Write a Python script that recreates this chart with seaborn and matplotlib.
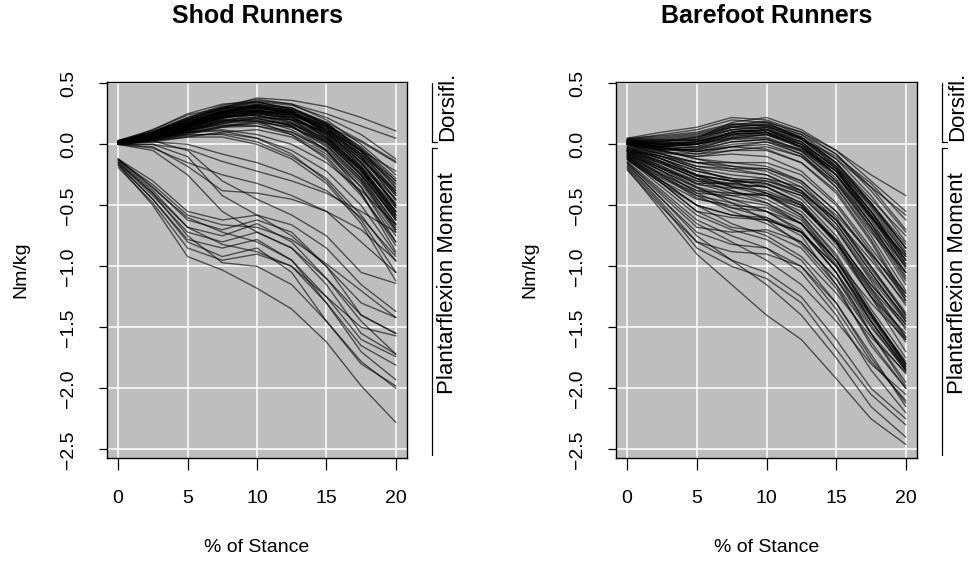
import pandas as pd
import matplotlib
matplotlib.use("Agg")
import matplotlib.pyplot as plt
import seaborn as sns

# % of stance where each runner's moment was read
stance_pct = [0, 2.5, 5, 7.5, 10, 12.5, 15, 17.5, 20]

# shod runners: main bundle (small dorsiflexion peak near 10 %)
shod_upper = [
    [0.03, 0.10, 0.20, 0.30, 0.38, 0.36, 0.31, 0.22, 0.11],
    [0.02, 0.09, 0.20, 0.30, 0.36, 0.33, 0.25, 0.15, 0.05],
    [0.02, 0.08, 0.18, 0.29, 0.35, 0.32, 0.22, 0.08, -0.12],
    [0.01, 0.12, 0.24, 0.30, 0.31, 0.25, 0.15, 0.02, -0.15],
    [0.02, 0.10, 0.22, 0.32, 0.37, 0.33, 0.20, 0.00, -0.25],
    [0.00, 0.07, 0.17, 0.26, 0.32, 0.30, 0.18, -0.05, -0.35],
    [0.01, 0.06, 0.15, 0.25, 0.30, 0.26, 0.12, -0.10, -0.42],
    [0.00, 0.05, 0.13, 0.22, 0.28, 0.25, 0.10, -0.15, -0.50],
    [0.02, 0.08, 0.17, 0.27, 0.33, 0.27, 0.10, -0.18, -0.55],
    [0.01, 0.09, 0.19, 0.27, 0.29, 0.22, 0.06, -0.20, -0.52],
    [0.00, 0.04, 0.11, 0.19, 0.25, 0.22, 0.08, -0.16, -0.45],
    [0.00, 0.06, 0.14, 0.23, 0.27, 0.20, 0.02, -0.25, -0.60],
    [0.03, 0.11, 0.22, 0.30, 0.34, 0.30, 0.16, -0.06, -0.30],
    [0.01, 0.07, 0.16, 0.24, 0.26, 0.18, 0.00, -0.28, -0.65],
    [0.00, 0.05, 0.12, 0.20, 0.22, 0.15, -0.02, -0.30, -0.70],
    [0.02, 0.08, 0.18, 0.28, 0.31, 0.24, 0.05, -0.25, -0.62],
    [0.01, 0.06, 0.14, 0.22, 0.24, 0.18, 0.04, -0.18, -0.48],
    [0.00, 0.03, 0.08, 0.14, 0.18, 0.14, 0.02, -0.20, -0.55],
    [0.01, 0.05, 0.12, 0.18, 0.20, 0.12, -0.05, -0.35, -0.75],
    [0.02, 0.09, 0.19, 0.28, 0.32, 0.26, 0.12, -0.12, -0.40],
    [0.00, 0.04, 0.10, 0.17, 0.22, 0.20, 0.10, -0.08, -0.32],
    [0.01, 0.07, 0.15, 0.22, 0.25, 0.21, 0.09, -0.12, -0.38],
    [0.03, 0.10, 0.21, 0.31, 0.35, 0.28, 0.08, -0.22, -0.58],
    [0.00, 0.06, 0.13, 0.19, 0.21, 0.16, 0.03, -0.22, -0.62],
    [0.01, 0.04, 0.09, 0.14, 0.15, 0.10, -0.04, -0.30, -0.70],
    [0.00, 0.02, 0.06, 0.10, 0.12, 0.06, -0.10, -0.40, -0.83],
    [0.02, 0.07, 0.14, 0.20, 0.19, 0.08, -0.12, -0.42, -0.80],
    [0.01, 0.05, 0.10, 0.12, 0.08, 0.00, -0.15, -0.38, -0.66],
    [0.00, 0.03, 0.07, 0.09, 0.05, -0.05, -0.22, -0.50, -0.90],
    [0.01, 0.04, 0.08, 0.08, 0.02, -0.10, -0.28, -0.58, -0.96],
    [0.02, 0.08, 0.16, 0.23, 0.24, 0.15, -0.05, -0.40, -0.88],
    [0.00, 0.05, 0.12, 0.19, 0.23, 0.20, 0.06, -0.20, -0.60],
    [0.01, 0.06, 0.13, 0.21, 0.27, 0.26, 0.16, -0.02, -0.28],
    [0.02, 0.09, 0.18, 0.25, 0.28, 0.24, 0.12, -0.05, -0.22],
    [0.00, 0.04, 0.11, 0.18, 0.21, 0.15, -0.01, -0.28, -0.68],
    [0.01, 0.07, 0.16, 0.25, 0.30, 0.27, 0.14, -0.10, -0.45],
    [0.02, 0.06, 0.12, 0.16, 0.15, 0.08, -0.08, -0.35, -0.80],
    [0.00, 0.03, 0.06, 0.06, 0.00, -0.12, -0.32, -0.65, -1.12],
    [0.01, 0.05, 0.10, 0.11, 0.05, -0.08, -0.30, -0.62, -1.05],
    [0.03, 0.12, 0.25, 0.33, 0.35, 0.29, 0.18, 0.03, -0.14],
    [0.02, 0.08, 0.17, 0.26, 0.30, 0.25, 0.13, -0.08, -0.38],
    [0.00, 0.06, 0.14, 0.22, 0.26, 0.22, 0.10, -0.14, -0.52],
    [0.01, 0.07, 0.15, 0.24, 0.29, 0.26, 0.15, -0.05, -0.36],
    [0.02, 0.05, 0.10, 0.15, 0.17, 0.10, -0.06, -0.32, -0.72],
    [0.00, 0.07, 0.17, 0.27, 0.31, 0.26, 0.11, -0.15, -0.50],
    [0.00, 0.00, -0.04, -0.14, -0.22, -0.30, -0.40, -0.55, -0.72],
    [0.01, 0.02, 0.00, -0.08, -0.15, -0.25, -0.38, -0.60, -0.92],
    [0.01, 0.08, 0.18, 0.27, 0.31, 0.28, 0.16, -0.08, -0.42],
    [0.02, 0.09, 0.20, 0.29, 0.33, 0.29, 0.17, -0.04, -0.33],
    [0.00, 0.05, 0.13, 0.21, 0.26, 0.24, 0.14, -0.06, -0.40],
    [0.01, 0.06, 0.15, 0.24, 0.28, 0.23, 0.08, -0.18, -0.55],
    [0.02, 0.10, 0.21, 0.29, 0.32, 0.27, 0.14, -0.10, -0.46],
    [0.00, 0.06, 0.15, 0.23, 0.27, 0.24, 0.12, -0.12, -0.50],
    [0.01, 0.08, 0.17, 0.25, 0.28, 0.22, 0.07, -0.20, -0.58],
    [0.02, 0.07, 0.16, 0.26, 0.31, 0.28, 0.17, -0.03, -0.30],
    [0.01, 0.05, 0.11, 0.17, 0.19, 0.14, 0.01, -0.24, -0.62],
    [0.00, 0.04, 0.09, 0.15, 0.19, 0.17, 0.05, -0.20, -0.58],
    [0.02, 0.10, 0.20, 0.26, 0.27, 0.20, 0.04, -0.22, -0.56],
    [0.01, 0.07, 0.16, 0.23, 0.24, 0.17, 0.02, -0.26, -0.66],
]

# shod runners: curves that drop into plantarflexion early
shod_lower = [
    [-0.12, -0.35, -0.62, -0.70, -0.62, -0.72, -1.00, -1.30, -1.42],
    [-0.13, -0.38, -0.68, -0.75, -0.65, -0.80, -1.10, -1.40, -1.55],
    [-0.15, -0.42, -0.72, -0.80, -0.72, -0.85, -1.15, -1.55, -1.72],
    [-0.17, -0.45, -0.78, -0.85, -0.78, -0.95, -1.30, -1.65, -1.81],
    [-0.12, -0.36, -0.60, -0.72, -0.80, -0.95, -1.25, -1.60, -1.74],
    [-0.19, -0.48, -0.85, -0.95, -0.90, -1.00, -1.30, -1.70, -1.93],
    [-0.16, -0.45, -0.80, -0.92, -0.85, -1.05, -1.45, -1.80, -1.98],
    [-0.17, -0.50, -0.92, -1.03, -1.18, -1.35, -1.62, -1.98, -2.28],
    [-0.14, -0.40, -0.75, -0.97, -1.00, -1.15, -1.45, -1.78, -2.00],
    [-0.12, -0.30, -0.55, -0.62, -0.58, -0.66, -0.85, -1.15, -1.37],
    [-0.13, -0.33, -0.58, -0.66, -0.68, -0.78, -0.98, -1.20, -1.42],
    [-0.15, -0.40, -0.68, -0.82, -0.88, -1.00, -1.25, -1.50, -1.57],
    [0.00, -0.05, -0.25, -0.55, -0.72, -0.85, -1.10, -1.45, -1.72],
    [0.00, 0.00, -0.10, -0.42, -0.58, -0.75, -1.00, -1.40, -1.55],
    [0.01, 0.03, -0.05, -0.30, -0.45, -0.58, -0.75, -1.05, -1.14],
    [0.00, -0.03, -0.15, -0.25, -0.32, -0.42, -0.55, -0.80, -1.05],
    [0.00, -0.02, -0.18, -0.38, -0.40, -0.45, -0.55, -0.70, -0.95],
]

# barefoot runners: upper bundle
barefoot_upper = [
    [0.05, 0.10, 0.14, 0.22, 0.20, 0.10, -0.05, -0.25, -0.42],
    [0.04, 0.08, 0.12, 0.20, 0.18, 0.05, -0.12, -0.35, -0.58],
    [0.03, 0.02, 0.05, 0.18, 0.22, 0.12, -0.05, -0.30, -0.55],
    [0.02, 0.00, 0.02, 0.12, 0.15, 0.05, -0.15, -0.45, -0.75],
    [0.01, -0.02, 0.00, 0.10, 0.12, 0.00, -0.22, -0.55, -0.90],
    [0.04, 0.03, 0.06, 0.14, 0.13, 0.02, -0.20, -0.50, -0.85],
    [0.00, -0.04, -0.02, 0.08, 0.10, -0.02, -0.25, -0.60, -0.95],
    [0.02, 0.01, 0.04, 0.16, 0.19, 0.08, -0.12, -0.42, -0.80],
    [0.03, 0.00, -0.02, 0.05, 0.06, -0.05, -0.30, -0.65, -1.00],
    [0.01, -0.03, -0.05, 0.02, 0.04, -0.08, -0.35, -0.72, -1.05],
    [0.00, -0.05, -0.04, 0.05, 0.08, -0.03, -0.28, -0.65, -1.10],
    [0.02, -0.02, 0.01, 0.10, 0.14, 0.05, -0.18, -0.55, -0.98],
    [0.04, 0.05, 0.08, 0.15, 0.16, 0.08, -0.08, -0.35, -0.70],
    [0.01, -0.01, 0.02, 0.09, 0.09, -0.02, -0.25, -0.60, -0.92],
    [0.03, 0.01, 0.00, 0.06, 0.10, 0.02, -0.20, -0.58, -1.02],
    [0.00, -0.06, -0.08, -0.02, 0.00, -0.10, -0.35, -0.75, -1.20],
    [0.02, -0.03, -0.06, 0.00, 0.02, -0.08, -0.32, -0.70, -1.15],
    [0.01, 0.02, 0.06, 0.12, 0.10, -0.02, -0.25, -0.62, -1.05],
    [0.03, 0.04, 0.03, 0.08, 0.12, 0.04, -0.16, -0.50, -0.88],
    [0.00, -0.02, -0.03, 0.04, 0.05, -0.06, -0.30, -0.68, -1.12],
    [0.02, 0.00, 0.03, 0.14, 0.17, 0.06, -0.15, -0.48, -0.85],
    [0.05, 0.07, 0.10, 0.17, 0.15, 0.05, -0.10, -0.32, -0.62],
    [0.01, -0.04, -0.06, -0.02, -0.04, -0.15, -0.40, -0.80, -1.28],
    [0.00, -0.07, -0.10, -0.05, -0.05, -0.15, -0.38, -0.78, -1.25],
    [0.03, 0.00, 0.00, 0.07, 0.08, -0.02, -0.22, -0.58, -0.98],
    [0.02, -0.01, 0.00, 0.10, 0.12, 0.00, -0.25, -0.65, -1.08],
    [0.02, -0.02, -0.06, -0.02, 0.02, -0.05, -0.25, -0.58, -0.92],
    [0.01, -0.03, -0.08, -0.05, -0.02, -0.10, -0.32, -0.68, -1.05],
    [0.03, 0.02, 0.00, 0.05, 0.08, 0.00, -0.18, -0.48, -0.82],
    [0.02, 0.03, 0.04, 0.12, 0.14, 0.04, -0.18, -0.52, -0.90],
    [0.00, -0.04, -0.04, 0.02, 0.04, -0.04, -0.22, -0.55, -0.95],
    [0.04, 0.06, 0.09, 0.16, 0.18, 0.10, -0.08, -0.38, -0.72],
    [0.03, 0.04, 0.07, 0.14, 0.16, 0.06, -0.15, -0.48, -0.85],
    [0.01, -0.02, 0.00, 0.08, 0.10, 0.00, -0.22, -0.60, -1.00],
    [0.02, 0.00, 0.02, 0.10, 0.12, 0.02, -0.20, -0.55, -0.95],
]

# barefoot runners: middle group
barefoot_mid = [
    [-0.05, -0.15, -0.25, -0.30, -0.32, -0.42, -0.70, -1.10, -1.45],
    [-0.08, -0.20, -0.30, -0.33, -0.35, -0.48, -0.78, -1.15, -1.47],
    [-0.03, -0.10, -0.18, -0.22, -0.25, -0.38, -0.65, -1.05, -1.43],
    [-0.10, -0.25, -0.38, -0.40, -0.42, -0.55, -0.85, -1.25, -1.55],
    [-0.06, -0.18, -0.30, -0.38, -0.45, -0.60, -0.95, -1.40, -1.82],
    [-0.12, -0.30, -0.45, -0.50, -0.52, -0.65, -1.00, -1.45, -1.85],
    [-0.04, -0.12, -0.22, -0.28, -0.30, -0.40, -0.62, -0.95, -1.30],
    [-0.08, -0.22, -0.35, -0.42, -0.48, -0.62, -0.95, -1.40, -1.80],
    [-0.10, -0.28, -0.42, -0.48, -0.55, -0.70, -1.05, -1.48, -1.86],
    [-0.05, -0.16, -0.28, -0.35, -0.38, -0.50, -0.82, -1.25, -1.62],
    [-0.02, -0.08, -0.15, -0.18, -0.20, -0.30, -0.55, -0.92, -1.32],
    [-0.07, -0.20, -0.32, -0.32, -0.30, -0.38, -0.62, -1.00, -1.40],
    [-0.09, -0.24, -0.38, -0.45, -0.50, -0.65, -0.98, -1.45, -1.84],
    [-0.04, -0.14, -0.26, -0.34, -0.40, -0.52, -0.80, -1.20, -1.58],
    [-0.06, -0.19, -0.33, -0.36, -0.33, -0.42, -0.70, -1.12, -1.52],
    [-0.11, -0.27, -0.40, -0.42, -0.40, -0.50, -0.80, -1.25, -1.70],
    [-0.03, -0.12, -0.25, -0.30, -0.28, -0.35, -0.58, -0.90, -1.22],
    [-0.08, -0.22, -0.36, -0.45, -0.55, -0.72, -1.05, -1.45, -1.83],
    [-0.05, -0.10, -0.15, -0.15, -0.15, -0.25, -0.50, -0.88, -1.28],
    [-0.12, -0.32, -0.50, -0.58, -0.62, -0.72, -1.00, -1.42, -1.82],
    [0.02, -0.05, -0.12, -0.15, -0.18, -0.30, -0.55, -0.90, -1.25],
    [0.00, -0.08, -0.18, -0.20, -0.20, -0.32, -0.60, -1.00, -1.38],
    [-0.02, -0.12, -0.22, -0.28, -0.35, -0.50, -0.80, -1.18, -1.50],
    [0.01, -0.06, -0.10, -0.08, -0.10, -0.22, -0.48, -0.85, -1.22],
    [-0.04, -0.15, -0.28, -0.38, -0.48, -0.65, -0.95, -1.30, -1.60],
    [0.00, -0.10, -0.20, -0.25, -0.28, -0.40, -0.68, -1.08, -1.42],
    [-0.06, -0.20, -0.35, -0.48, -0.62, -0.82, -1.15, -1.55, -1.88],
    [-0.03, -0.12, -0.25, -0.35, -0.42, -0.58, -0.90, -1.35, -1.75],
    [-0.08, -0.25, -0.42, -0.55, -0.65, -0.80, -1.10, -1.50, -1.85],
    [-0.10, -0.30, -0.50, -0.65, -0.75, -0.92, -1.22, -1.58, -1.87],
    [-0.05, -0.18, -0.32, -0.40, -0.42, -0.52, -0.78, -1.15, -1.48],
    [-0.02, -0.10, -0.20, -0.30, -0.40, -0.58, -0.92, -1.38, -1.80],
    [-0.07, -0.22, -0.40, -0.52, -0.60, -0.72, -1.00, -1.40, -1.78],
    [0.01, -0.05, -0.12, -0.18, -0.22, -0.35, -0.62, -1.02, -1.40],
    [-0.04, -0.14, -0.26, -0.30, -0.32, -0.45, -0.75, -1.18, -1.58],
    [-0.09, -0.26, -0.44, -0.52, -0.55, -0.65, -0.95, -1.38, -1.80],
    [-0.01, -0.08, -0.15, -0.20, -0.25, -0.38, -0.65, -1.05, -1.45],
    [-0.06, -0.16, -0.28, -0.32, -0.35, -0.48, -0.80, -1.22, -1.60],
]

# barefoot runners: lowest group
barefoot_lower = [
    [-0.15, -0.40, -0.65, -0.80, -0.95, -1.15, -1.45, -1.80, -2.05],
    [-0.18, -0.48, -0.80, -0.95, -1.05, -1.25, -1.60, -2.00, -2.25],
    [-0.20, -0.55, -0.90, -1.15, -1.40, -1.60, -1.92, -2.25, -2.46],
    [-0.16, -0.45, -0.75, -0.95, -1.15, -1.40, -1.75, -2.15, -2.40],
    [-0.14, -0.38, -0.62, -0.75, -0.85, -1.05, -1.40, -1.85, -2.20],
    [-0.19, -0.50, -0.85, -1.00, -1.10, -1.30, -1.68, -2.05, -2.30],
    [-0.12, -0.35, -0.58, -0.70, -0.78, -0.95, -1.30, -1.75, -2.12],
    [-0.17, -0.45, -0.72, -0.82, -0.85, -1.00, -1.35, -1.78, -2.10],
    [-0.13, -0.32, -0.55, -0.60, -0.62, -0.72, -1.05, -1.55, -1.95],
    [-0.21, -0.52, -0.80, -0.88, -0.90, -1.00, -1.30, -1.72, -2.15],
    [-0.10, -0.30, -0.50, -0.58, -0.60, -0.75, -1.15, -1.65, -2.00],
    [-0.15, -0.42, -0.68, -0.72, -0.70, -0.80, -1.10, -1.55, -1.98],
    [-0.11, -0.32, -0.55, -0.68, -0.72, -0.85, -1.18, -1.62, -2.00],
]

x_ticks = [0, 5, 10, 15, 20]
y_ticks = [0.5, 0.0, -0.5, -1.0, -1.5, -2.0, -2.5]


def to_long(groups):
    rows = []
    n = 0
    for grp in groups:
        for curve in grp:
            for x, y in zip(stance_pct, curve):
                rows.append({"stance": x, "moment": y, "runner": n})
            n += 1
    return pd.DataFrame(rows)


def panel(fig, rect, df, title):
    ax = fig.add_axes(rect)
    ax.set_facecolor("#bebebe")
    for v in x_ticks:
        ax.axvline(v, color="white", lw=1.1, zorder=1)
    for v in y_ticks:
        ax.axhline(v, color="white", lw=1.1, zorder=1)
    sns.lineplot(data=df, x="stance", y="moment", units="runner", estimator=None,
                 color="black", alpha=0.6, lw=1.0, ax=ax, legend=False, zorder=3)
    ax.set_xlim(-0.8, 20.8)
    ax.set_ylim(-2.571, 0.511)
    ax.set_xticks(x_ticks)
    ax.set_yticks(y_ticks)
    ax.set_xticklabels([str(v) for v in x_ticks])
    ax.set_yticklabels([f"{v:.1f}".replace("-", "\u2212") for v in y_ticks],
                       rotation=90, va="center")
    ax.tick_params(bottom=True, left=True, direction="out", width=0.9,
                   labelsize=14, color="black", labelcolor="black")
    ax.tick_params(axis="x", length=8.5, pad=14.5)
    ax.tick_params(axis="y", length=5.5, pad=16)
    ax.set_xlabel("")
    ax.set_ylabel("")
    for s in ax.spines.values():
        s.set_visible(True)
        s.set_color("black")
        s.set_linewidth(1.0)

    # bracket annotations on the right
    kw = dict(color="black", lw=0.9, clip_on=False)
    ax.plot([22.6, 22.6], [0.5, 0.02], **kw)
    ax.plot([22.6, 22.95], [0.02, 0.02], **kw)
    ax.plot([22.6, 22.6], [-0.03, -2.55], **kw)
    ax.plot([22.6, 22.95], [-0.03, -0.03], **kw)
    ax.text(23.7, 0.31, "Dorsifl.", rotation=90, ha="center", va="center", fontsize=16)
    ax.text(23.7, -1.14, "Plantarflexion Moment", rotation=90, ha="center",
            va="center", fontsize=16)

    x0, y0, w, h = rect
    cx = x0 + w / 2
    fig.text(cx, 1 - 16 / 563, title, ha="center", va="center",
             fontsize=18, fontweight="bold")
    fig.text(cx, 1 - 548 / 563, "% of Stance", ha="center", va="center", fontsize=14)
    fig.text(x0 - 86 / 968, y0 + h / 2, "Nm/kg", rotation=90, ha="center",
             va="center", fontsize=14)
    return ax


sns.set_style("white")
plt.rcParams["font.family"] = ["Liberation Sans", "DejaVu Sans"]
plt.rcParams["text.color"] = "black"

fig = plt.figure(figsize=(9.68, 5.63), dpi=100)
shod = to_long([shod_upper, shod_lower])
barefoot = to_long([barefoot_upper, barefoot_mid, barefoot_lower])
panel(fig, [107 / 968, 1 - 458 / 563, 300 / 968, 376 / 563], shod, "Shod Runners")
panel(fig, [616 / 968, 1 - 458 / 563, 301 / 968, 376 / 563], barefoot, "Barefoot Runners")
fig.savefig("out.png", dpi=100)
